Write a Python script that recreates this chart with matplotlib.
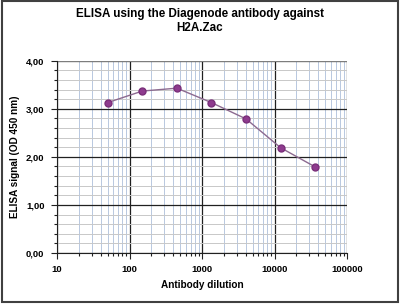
import matplotlib
matplotlib.use("Agg")
import matplotlib.pyplot as plt
from matplotlib.ticker import FixedLocator, NullFormatter, FuncFormatter
import numpy as np

plt.rcParams['font.family'] = ['Liberation Sans', 'DejaVu Sans']

# data
dilution = [50, 150, 450, 1350, 4050, 12150, 36450]
signal = [3.13, 3.37, 3.43, 3.13, 2.79, 2.19, 1.79]

x_ticks = [10, 100, 1000, 10000, 100000]
y_ticks = [0, 1, 2, 3, 4]

fig = plt.figure(figsize=(4.0, 3.04), dpi=100)
ax = fig.add_axes([0.1425, 0.168, 0.725, 0.632])

ax.set_xscale('log')
ax.set_xlim(10, 100000)
ax.set_ylim(0, 4)

# minor grid
minor_x = [m * 10 ** e for e in range(1, 5) for m in range(2, 10)]
ax.xaxis.set_minor_locator(FixedLocator(minor_x))
ax.xaxis.set_minor_formatter(NullFormatter())
ax.yaxis.set_minor_locator(FixedLocator(np.arange(0.2, 4.0, 0.2)))
ax.grid(which='minor', axis='x', color='#b8c8e0', linewidth=0.7)
ax.grid(which='minor', axis='y', color='#c8c8c8', linewidth=0.7)
ax.grid(which='major', color='#202020', linewidth=0.9)

ax.set_xticks(x_ticks)
ax.xaxis.set_major_formatter(FuncFormatter(lambda v, p: f"{int(v)}"))
ax.set_yticks(y_ticks)
ax.yaxis.set_major_formatter(FuncFormatter(lambda v, p: f"{v:.2f}".replace('.', ',')))

for lab in ax.get_xticklabels() + ax.get_yticklabels():
    lab.set_fontweight('bold')
    lab.set_fontsize(6.8)

ax.tick_params(which='major', length=4, width=0.8, color='#202020', pad=5)
ax.tick_params(which='minor', length=2, width=0.8, color='#202020')

for side in ['top', 'right']:
    ax.spines[side].set_visible(False)
ax.spines['left'].set_color('#202020')
ax.spines['bottom'].set_color('#202020')
ax.axhline(4, color='#909090', linewidth=1.2)

ax.plot(dilution, signal, color='#8c6a90', linewidth=1.0, marker='o',
        markersize=5, markerfacecolor='#8e3b8e', markeredgecolor='#7a2f7a', zorder=3)

ax.set_xlabel("Antibody dilution", fontsize=7.2, fontweight='bold', labelpad=4)
ax.set_ylabel("ELISA signal (OD 450 nm)", fontsize=7.2, fontweight='bold', labelpad=4)

fig.text(0.5, 0.975, "ELISA using the Diagenode antibody against\nH2A.Zac",
         ha='center', va='top', fontsize=8.4, fontweight='bold', linespacing=1.3)

# outer frame
fig.patches.append(plt.Rectangle((0.004, 0.006), 0.99, 0.99, transform=fig.transFigure,
                                 fill=False, edgecolor='#404040', linewidth=1.5))

fig.savefig("out.png", dpi=100)
